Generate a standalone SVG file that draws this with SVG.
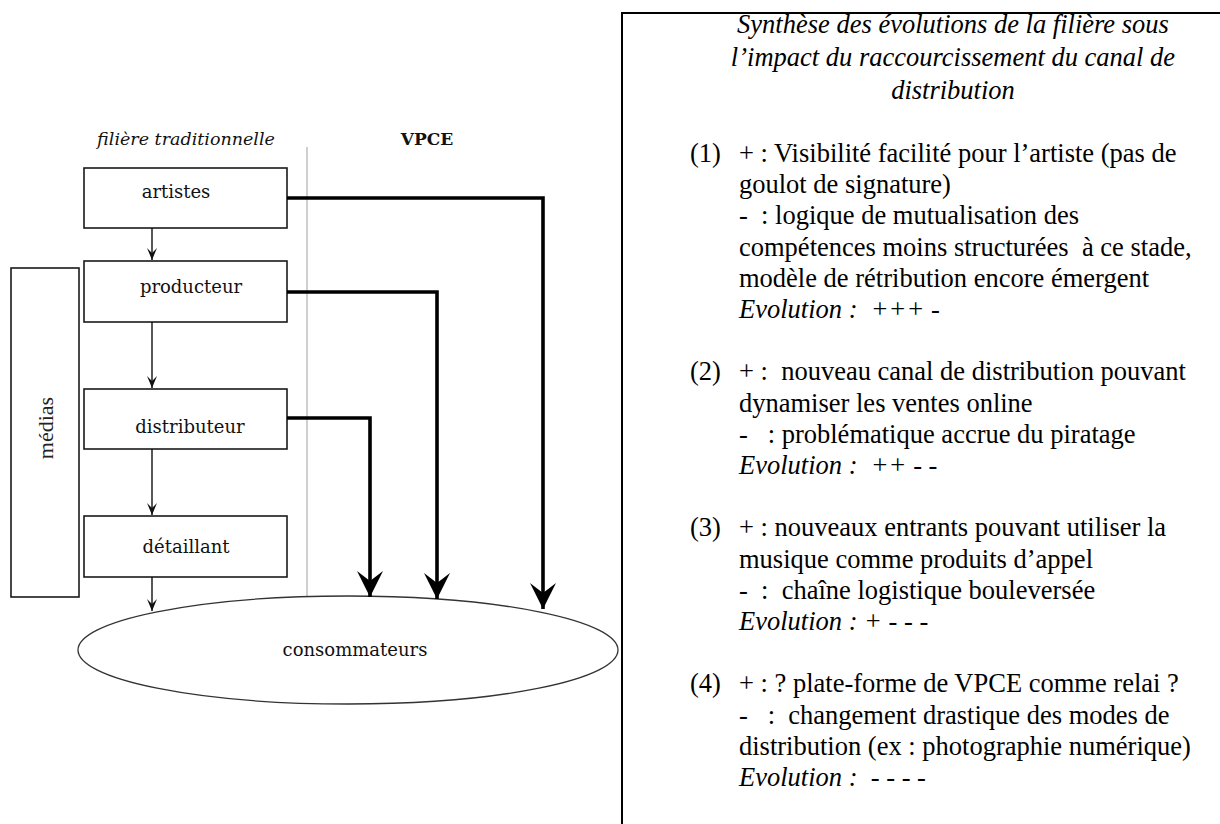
<svg xmlns="http://www.w3.org/2000/svg" width="1220" height="824" viewBox="0 0 1220 824">
<style>
.box{fill:#fff;stroke:#1a1a1a;stroke-width:1.6}
.lbl{font-family:"DejaVu Serif",serif;font-size:18px;fill:#111;text-anchor:middle}
.hdr{font-family:"DejaVu Serif",serif;fill:#111;text-anchor:middle}
.thin{fill:none;stroke:#111;stroke-width:1.4}
.thick{fill:none;stroke:#000;stroke-width:3.6}
.t{font-family:"Liberation Serif","Times New Roman",serif;font-size:26.5px;fill:#000;white-space:pre}
.i{font-style:italic}
</style>
<defs>
<marker id="sa" markerUnits="userSpaceOnUse" markerWidth="14" markerHeight="12" viewBox="-12 -6 14 12" refX="0" refY="0" orient="auto" overflow="visible">
<path d="M0,0 L-12,-5 L-7,0 L-12,5 Z" fill="#111"/>
</marker>
<marker id="ba" markerUnits="userSpaceOnUse" markerWidth="30" markerHeight="30" viewBox="-28 -15 30 30" refX="0" refY="0" orient="auto" overflow="visible">
<path d="M0,0 L-26,-13 L-16,0 L-26,13 Z" fill="#000"/>
</marker>
</defs>

<line x1="307" y1="147" x2="307" y2="597" stroke="#c4c4c4" stroke-width="1.6"/>
<text class="hdr" x="186" y="145" font-size="17.5" font-style="italic">filière traditionnelle</text>
<text class="hdr" x="427" y="145" font-size="17" font-weight="bold">VPCE</text>

<g id="medias">
<rect class="box" x="11" y="268" width="68" height="329"/>
<text x="45" y="428" transform="rotate(-90 45 428)" text-anchor="middle" dominant-baseline="central" font-family="Liberation Serif, serif" font-size="22" fill="#222">médias</text>
</g>
<g id="consommateurs">
<ellipse cx="348" cy="650" rx="270" ry="54" fill="#fff" stroke="#333" stroke-width="1.3"/>
<text class="lbl" x="355" y="656">consommateurs</text>
</g>
<g id="artistes">
<rect class="box" x="84" y="168" width="203" height="60"/>
<text class="lbl" x="176" y="198">artistes</text>
</g>
<g id="producteur">
<rect class="box" x="84" y="261" width="203" height="61"/>
<text class="lbl" x="191" y="293">producteur</text>
</g>
<g id="distributeur">
<rect class="box" x="84" y="389" width="203" height="60"/>
<text class="lbl" x="190" y="433">distributeur</text>
</g>
<g id="detaillant">
<rect class="box" x="84" y="516" width="203" height="61"/>
<text class="lbl" x="186" y="553">détaillant</text>
</g>

<g id="connectors">
<path class="thin" d="M152,228 V260" marker-end="url(#sa)"/>
<path class="thin" d="M152,322 V388" marker-end="url(#sa)"/>
<path class="thin" d="M152,449 V515" marker-end="url(#sa)"/>
<path class="thin" d="M152,577 V611" marker-end="url(#sa)"/>
<path class="thick" d="M287,198 H543 V609" marker-end="url(#ba)"/>
<path class="thick" d="M287,292 H437 V599" marker-end="url(#ba)"/>
<path class="thick" d="M287,418 H370 V597" marker-end="url(#ba)"/>
</g>

<g id="synthese">
<rect x="622" y="13" width="640" height="840" fill="none" stroke="#000" stroke-width="2"/>
<text class="t i" x="953" y="33" text-anchor="middle">Synthèse des évolutions de la filière sous</text>
<text class="t i" x="953" y="66" text-anchor="middle">l’impact du raccourcissement du canal de</text>
<text class="t i" x="953" y="99" text-anchor="middle">distribution</text>

<text class="t" x="690" y="162">(1)</text>
<text class="t" x="739" y="162">+ : Visibilité facilité pour l’artiste (pas de</text>
<text class="t" x="739" y="193.2">goulot de signature)</text>
<text class="t" x="739" y="224.4">-  : logique de mutualisation des</text>
<text class="t" x="739" y="255.6">compétences moins structurées  à ce stade,</text>
<text class="t" x="739" y="286.8">modèle de rétribution encore émergent</text>
<text class="t i" x="739" y="318">Evolution :  +++ -</text>

<text class="t" x="690" y="380.4">(2)</text>
<text class="t" x="739" y="380.4">+ :  nouveau canal de distribution pouvant</text>
<text class="t" x="739" y="411.6">dynamiser les ventes online</text>
<text class="t" x="739" y="442.8">-   : problématique accrue du piratage</text>
<text class="t i" x="739" y="474">Evolution :  ++ - -</text>

<text class="t" x="690" y="536.4">(3)</text>
<text class="t" x="739" y="536.4">+ : nouveaux entrants pouvant utiliser la</text>
<text class="t" x="739" y="567.6">musique comme produits d’appel</text>
<text class="t" x="739" y="598.8">-  :  chaîne logistique bouleversée</text>
<text class="t i" x="739" y="630">Evolution : + - - -</text>

<text class="t" x="690" y="692.4">(4)</text>
<text class="t" x="739" y="692.4">+ : ? plate-forme de VPCE comme relai ?</text>
<text class="t" x="739" y="723.6">-   :  changement drastique des modes de</text>
<text class="t" x="739" y="754.8">distribution (ex : photographie numérique)</text>
<text class="t i" x="739" y="786">Evolution :  - - - -</text>
</g>
</svg>
